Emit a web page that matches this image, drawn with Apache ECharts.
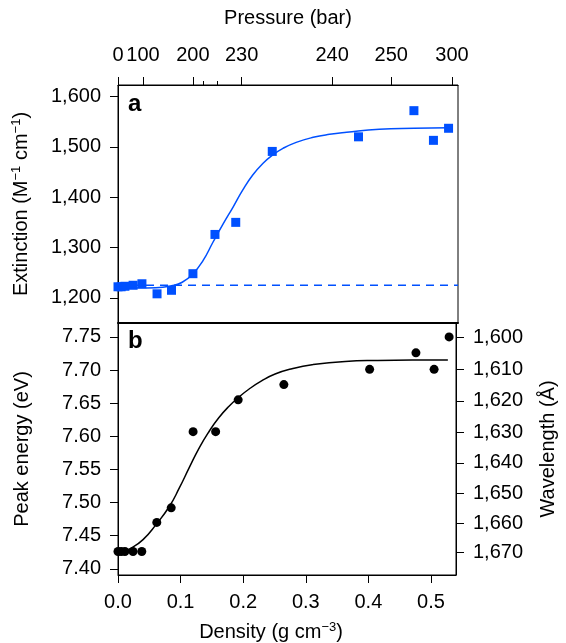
<!DOCTYPE html>
<html><head><meta charset="utf-8">
<script src="https://cdn.jsdelivr.net/npm/echarts@6/dist/echarts.min.js"></script>
<style>html,body{margin:0;padding:0;background:#fff}#c{width:566px;height:643px}</style>
</head><body><div id="c"></div>
<script>
// ---- Panel a: extinction vs density ----
const densityA = [0, 0.005, 0.011, 0.024, 0.038, 0.062, 0.085, 0.119, 0.154, 0.187, 0.245, 0.382, 0.470, 0.501, 0.525];
const extinctionA = [1222, 1222, 1223, 1225, 1228, 1208, 1215, 1248, 1326, 1350, 1491, 1520, 1572, 1513, 1537];
const fitDensityA = [0, 0.03, 0.06, 0.085, 0.102, 0.119, 0.135, 0.151, 0.167, 0.183, 0.198, 0.214, 0.230, 0.246, 0.262, 0.283, 0.310, 0.336, 0.363, 0.415, 0.470, 0.525];
const fitExtinctionA = [1221, 1219.5, 1220, 1224, 1231, 1248, 1274, 1311, 1347, 1381, 1414, 1444, 1467, 1484, 1497, 1509, 1519, 1525, 1529, 1535, 1537, 1538];
const baselineDensity = [0, 0.54];
const baselineExtinction = [1225, 1225];
const extinctionTicks = [1200, 1300, 1400, 1500, 1600];

// ---- Panel b: peak energy vs density ----
const densityB = [0, 0.005, 0.011, 0.024, 0.038, 0.062, 0.085, 0.120, 0.156, 0.192, 0.265, 0.402, 0.476, 0.505, 0.529];
const energyB = [7.426, 7.426, 7.426, 7.426, 7.426, 7.470, 7.492, 7.607, 7.607, 7.655, 7.678, 7.701, 7.726, 7.701, 7.750];
const fitDensityB = [0.005, 0.019, 0.040, 0.061, 0.082, 0.098, 0.114, 0.130, 0.146, 0.161, 0.177, 0.193, 0.209, 0.230, 0.251, 0.278, 0.310, 0.363, 0.415, 0.470, 0.527];
const fitEnergyB = [7.424, 7.430, 7.444, 7.467, 7.494, 7.522, 7.553, 7.583, 7.608, 7.628, 7.645, 7.659, 7.671, 7.684, 7.694, 7.702, 7.708, 7.713, 7.7145, 7.715, 7.715];
const energyTicks = [7.40, 7.45, 7.50, 7.55, 7.60, 7.65, 7.70, 7.75];
const wavelengthTicks = [1600, 1610, 1620, 1630, 1640, 1650, 1660, 1670];
const densityTicks = [0, 0.1, 0.2, 0.3, 0.4, 0.5];

// ---- Top pressure axis (non-linear, positioned at density) ----
const pressureLabels = ['0', '100', '200', '230', '240', '250', '300'];
const pressureDensity = [0, 0.0397, 0.119, 0.1963, 0.340, 0.434, 0.5305];
const pressureMinorDensity = [0.136, 0.158];

const HC = 12398.42; // eV·Å
const FONT = 'Liberation Sans';
const FS = 20;
const BLUE = '#0050ff';
function comma(v) { return String(Math.round(v)).replace(/\B(?=(\d{3})+(?!\d))/g, ','); }
function pair(xs, ys) { return xs.map((x, i) => [x, ys[i]]); }

const supRich = { sup: { fontSize: 13, fontFamily: FONT, color: '#000', verticalAlign: 'bottom', padding: [0, 0, 9, 0] } };
const txt = { fontFamily: FONT, fontSize: FS, color: '#000' };
const line = { show: true, lineStyle: { color: '#000', width: 1 } };

const chart = echarts.init(document.getElementById('c'), null, { renderer: 'canvas' });
chart.setOption({
  animation: false,
  backgroundColor: '#fff',
  grid: [
    { left: 118, right: 108, top: 85, height: 238, show: true, borderColor: '#000', borderWidth: 1, backgroundColor: 'transparent' },
    { left: 118, right: 108, top: 323, bottom: 68, show: true, borderColor: '#000', borderWidth: 1, backgroundColor: 'transparent' }
  ],
  xAxis: [
    { gridIndex: 0, type: 'value', position: 'bottom', min: 0, max: 0.54,
      axisLine: { show: true, lineStyle: { color: '#000', width: 2 } }, axisTick: { show: false }, axisLabel: { show: false }, splitLine: { show: false } },
    { gridIndex: 0, type: 'value', position: 'top', min: 0, max: 0.54,
      axisLine: line, splitLine: { show: false },
      axisTick: { show: true, inside: false, length: 8, customValues: pressureDensity, lineStyle: { color: '#000' } },
      axisLabel: { show: true, margin: 20, customValues: pressureDensity, ...txt,
        formatter: function (v) {
          let best = 0;
          pressureDensity.forEach((d, i) => { if (Math.abs(d - v) < Math.abs(pressureDensity[best] - v)) best = i; });
          return pressureLabels[best];
        } },
      name: 'Pressure (bar)', nameLocation: 'middle', nameGap: 57, nameTextStyle: { ...txt } },
    { gridIndex: 0, type: 'value', position: 'top', min: 0, max: 0.54,
      axisLine: { show: false }, splitLine: { show: false }, axisLabel: { show: false },
      axisTick: { show: true, inside: false, length: 4, customValues: pressureMinorDensity, lineStyle: { color: '#000' } } },
    { gridIndex: 1, type: 'value', position: 'bottom', min: 0, max: 0.54,
      axisLine: line, splitLine: { show: false },
      axisTick: { show: true, inside: false, length: 8, customValues: densityTicks, lineStyle: { color: '#000' } },
      axisLabel: { show: true, margin: 17, customValues: densityTicks, ...txt, formatter: v => v.toFixed(1) },
      name: 'Density (g cm{sup|−3})', nameLocation: 'middle', nameGap: 46,
      nameTextStyle: { ...txt, padding: [0, 32, 0, 0], rich: supRich } }
  ],
  yAxis: [
    { gridIndex: 0, type: 'value', position: 'left', min: 1150, max: 1623,
      axisLine: line, splitLine: { show: false },
      axisTick: { show: true, inside: false, length: 8, customValues: extinctionTicks, lineStyle: { color: '#000' } },
      axisLabel: { show: true, margin: 17, customValues: extinctionTicks, ...txt, formatter: v => comma(v) },
      name: 'Extinction (M{sup|−1} cm{sup|−1})', nameLocation: 'middle', nameGap: 86,
      nameTextStyle: { ...txt, rich: supRich } },
    { gridIndex: 1, type: 'value', position: 'left', min: 7.3906, max: 7.771,
      axisLine: line, splitLine: { show: false },
      axisTick: { show: true, inside: false, length: 8, customValues: energyTicks, lineStyle: { color: '#000' } },
      axisLabel: { show: true, margin: 17, customValues: energyTicks, ...txt, formatter: v => v.toFixed(2) },
      name: 'Peak energy (eV)', nameLocation: 'middle', nameGap: 86, nameTextStyle: { ...txt } },
    { gridIndex: 1, type: 'value', position: 'right', min: 7.3906, max: 7.771,
      axisLine: line, splitLine: { show: false },
      axisTick: { show: true, inside: false, length: 8, customValues: wavelengthTicks.map(w => HC / w), lineStyle: { color: '#000' } },
      axisLabel: { show: true, margin: 17, customValues: wavelengthTicks.map(w => HC / w), ...txt,
        formatter: v => comma(Math.round(HC / v / 10) * 10) },
      name: 'Wavelength (Å)', nameLocation: 'middle', nameGap: 82, nameTextStyle: { ...txt } }
  ],
  series: [
    { type: 'line', xAxisIndex: 0, yAxisIndex: 0, data: pair(baselineDensity, baselineExtinction),
      showSymbol: false, silent: true, lineStyle: { color: BLUE, width: 1.5, type: [8, 6], opacity: 1 } },
    { type: 'line', xAxisIndex: 0, yAxisIndex: 0, data: pair(fitDensityA, fitExtinctionA),
      showSymbol: false, smooth: 0.5, lineStyle: { color: BLUE, width: 1.5, opacity: 1 } },
    { type: 'scatter', xAxisIndex: 0, yAxisIndex: 0, data: pair(densityA, extinctionA),
      symbol: 'rect', symbolSize: 9, itemStyle: { color: BLUE, opacity: 1 } },
    { type: 'line', xAxisIndex: 3, yAxisIndex: 1, data: pair(fitDensityB, fitEnergyB),
      showSymbol: false, smooth: 0.5, lineStyle: { color: '#000', width: 1.5, opacity: 1 } },
    { type: 'scatter', xAxisIndex: 3, yAxisIndex: 1, data: pair(densityB, energyB),
      symbol: 'circle', symbolSize: 9, itemStyle: { color: '#000', opacity: 1 } }
  ],
  graphic: [
    { type: 'text', left: 128, top: 92, style: { text: 'a', font: 'bold 24px "Liberation Sans"', fill: '#000' } },
    { type: 'text', left: 128, top: 329, style: { text: 'b', font: 'bold 24px "Liberation Sans"', fill: '#000' } }
  ]
});
</script>
</body></html>
